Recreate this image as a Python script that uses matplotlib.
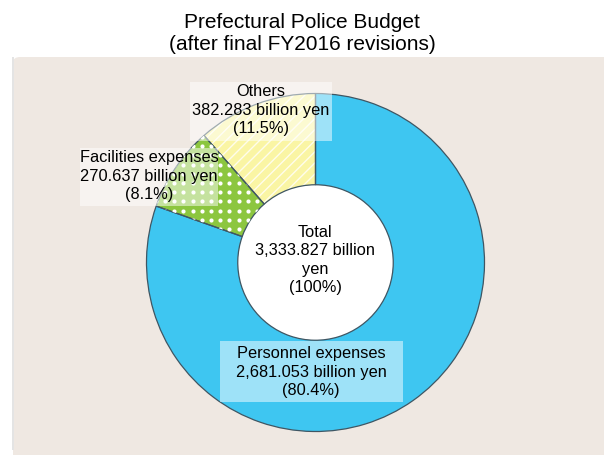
import numpy as np
import matplotlib.pyplot as plt
from matplotlib.patches import Rectangle, FancyBboxPatch, Circle

plt.rcParams['font.family'] = ['Liberation Sans', 'DejaVu Sans']
plt.rcParams['hatch.linewidth'] = 1.0

# budget data (billion yen)
categories = ["Personnel expenses", "Facilities expenses", "Others"]
amounts = [2681.053, 270.637, 382.283]
shares = [80.4, 8.1, 11.5]
total = 3333.827

colors = ["#3ec6f1", "#8cc63f", "#faf5a4"]
hatches = ["", "", "///"]

W, H = 604, 455
fig = plt.figure(figsize=(W / 100, H / 100), dpi=100)
fig.patch.set_facecolor("white")


def fx(px):
    return px / W


def fy(py):
    return 1 - py / H


# beige panel behind the chart
panel = FancyBboxPatch((fx(13), fy(470)), fx(640) - fx(13), fy(57) - fy(470),
                       boxstyle="round,pad=0,rounding_size=0.012",
                       transform=fig.transFigure, fc="#efe8e2", ec="none",
                       zorder=-5)
fig.add_artist(panel)
fig.add_artist(Rectangle((fx(12), fy(450)), fx(2), fy(57) - fy(450),
                         transform=fig.transFigure, fc="#e4e4e4", ec="none", zorder=-4))

fig.text(0.5, fy(33), "Prefectural Police Budget\n(after final FY2016 revisions)",
         ha="center", va="center", fontsize=15, linespacing=1.2)

# donut axes, centre ~ (315.5, 262.5) px, radius ~169 px
cx, cy, r = 315.5, 262.5, 169
ax = fig.add_axes([fx(cx - r), fy(cy + r), 2 * r / W, 2 * r / H])

# fill + soft white texture
wedges, _ = ax.pie(amounts, colors=colors, startangle=90, counterclock=False,
                   radius=1, wedgeprops=dict(width=0.54, edgecolor="#fffdec", linewidth=0))
for w, h in zip(wedges, hatches):
    w.set_hatch(h)

# white dot texture on the facilities wedge
step = 9.2 / r
gx, gy = np.meshgrid(np.arange(-1, 1, step), np.arange(-1, 1, step))
dots = ax.scatter(gx.ravel(), gy.ravel(), s=9, c="white", linewidths=0, zorder=1.5)
dots.set_clip_path(wedges[1])

ax.add_patch(Circle((0, 0), 0.46, fc="white", ec="none", zorder=0))
# outlines on top
ax.pie(amounts, startangle=90, counterclock=False, radius=1,
       wedgeprops=dict(width=0.54, fill=False, edgecolor="#3f5663", linewidth=0.9))
ax.set_xlim(-1, 1)
ax.set_ylim(-1, 1)
ax.axis("off")

# label boxes (semi transparent white)
boxes = [(220, 341, 403, 402), (80, 148, 218, 206), (190, 82, 332, 141)]
for x0, y0, x1, y1 in boxes:
    fig.add_artist(Rectangle((fx(x0), fy(y1)), fx(x1) - fx(x0), fy(y0) - fy(y1),
                             transform=fig.transFigure, fc="white", alpha=0.5,
                             ec="none", zorder=2))

label_pos = [(311, 372), (149, 176), (261, 110)]
for name, amt, pct, (x, y) in zip(categories, amounts, shares, label_pos):
    fig.text(fx(x), fy(y), f"{name}\n{amt:,.3f} billion yen\n({pct}%)",
             ha="center", va="center", fontsize=11.8, linespacing=1.29, zorder=3)

fig.text(fx(315), fy(260), f"Total\n{total:,.3f} billion\nyen\n(100%)",
         ha="center", va="center", fontsize=11.8, linespacing=1.29, zorder=3)

fig.savefig("out.png", dpi=100)
